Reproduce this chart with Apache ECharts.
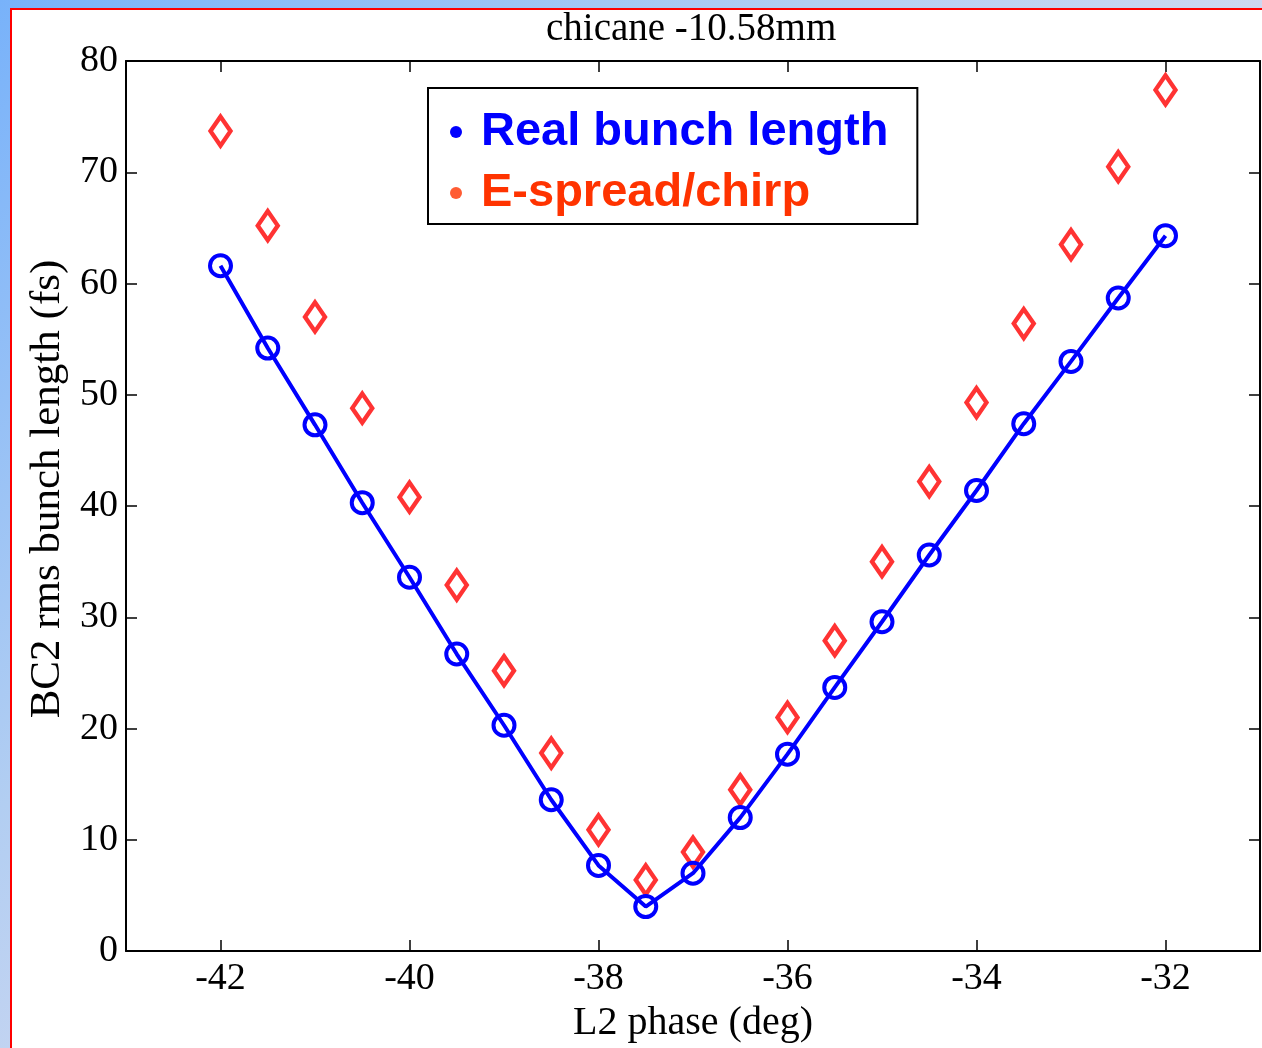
<!DOCTYPE html>
<html>
<head>
<meta charset="utf-8">
<script src="https://cdn.jsdelivr.net/npm/echarts@6/dist/echarts.min.js"></script>
<style>
  html, body { margin: 0; padding: 0; }
  #page {
    position: relative; width: 1262px; height: 1048px; overflow: hidden;
    background: linear-gradient(135deg, #78b2fa 0%, #b2cef2 35%, #dcdcf0 65%, #f6e8f6 100%);
  }
  #sheet {
    position: absolute; left: 10px; top: 8px; right: 0; bottom: 0;
    background: #fff; border-left: 2px solid #ff0000; border-top: 2px solid #ff0000;
  }
  #chart { position: absolute; left: 0; top: 0; width: 1262px; height: 1048px; }
</style>
</head>
<body>
<div id="page">
  <div id="sheet"></div>
  <div id="chart"></div>
</div>
<script>
// L2 phase scan at chicane -10.58mm
const phases = [-42, -41.5, -41, -40.5, -40, -39.5, -39, -38.5, -38, -37.5, -37,
                -36.5, -36, -35.5, -35, -34.5, -34, -33.5, -33, -32.5, -32];
const realBunchLength = [61.6, 54.2, 47.3, 40.3, 33.6, 26.7, 20.3, 13.6, 7.7, 4.0, 7.0,
                         12.0, 17.7, 23.7, 29.6, 35.6, 41.4, 47.4, 53.0, 58.7, 64.3];
const espreadChirp = [73.7, 65.2, 57.0, 48.8, 40.8, 32.9, 25.2, 17.8, 10.9, 6.4, 8.9,
                      14.5, 21.0, 27.9, 35.0, 42.2, 49.3, 56.4, 63.5, 70.5, 77.4];
const xTicks = [-42, -40, -38, -36, -34, -32];
const seriesNames = ['Real bunch length', 'E-spread/chirp'];
const titleText = 'chicane -10.58mm';
const xName = 'L2 phase (deg)';
const yName = 'BC2 rms bunch length (fs)';

const serif = 'Liberation Serif';
const sans = 'Liberation Sans';
const BLUE = '#0000ff';
const RED = '#ff0000';
const ORANGE = '#ff3300';

const pairs = (ys) => phases.map((x, i) => [x, ys[i]]);

const tickCommon = { show: true, inside: true, length: 11, lineStyle: { color: '#000', width: 1.5 } };
const lineCommon = { show: true, onZero: false, lineStyle: { color: '#000', width: 2 } };

const chart = echarts.init(document.getElementById('chart'), null, { renderer: 'canvas' });
chart.setOption({
  animation: false,
  backgroundColor: 'transparent',
  title: {
    text: titleText, left: 541, top: 5,
    textStyle: { fontFamily: serif, fontSize: 39, fontWeight: 'normal', color: '#000' }
  },
  legend: {
    orient: 'vertical', left: 428, top: 88,
    selectedMode: false,
    backgroundColor: '#fff', borderColor: '#000', borderWidth: 2,
    padding: [19, 29, 6, 22],
    itemWidth: 12, itemHeight: 12, itemGap: 11,
    textStyle: { fontFamily: sans, fontSize: 47, fontWeight: 'bold', lineHeight: 50, padding: [0, 0, 0, 14] },
    data: [
      { name: seriesNames[0], icon: 'circle', itemStyle: { color: BLUE, borderWidth: 0 }, textStyle: { color: BLUE } },
      { name: seriesNames[1], icon: 'circle', itemStyle: { color: ORANGE, borderWidth: 0 }, textStyle: { color: ORANGE } }
    ]
  },
  grid: { left: 126, width: 1134, top: 61, height: 897, containLabel: false },
  xAxis: [
    {
      type: 'value', position: 'bottom', min: -43, max: -31,
      name: xName, nameLocation: 'middle', nameGap: 44,
      nameTextStyle: { fontFamily: serif, fontSize: 40, color: '#000' },
      axisLine: lineCommon,
      axisTick: Object.assign({ customValues: xTicks }, tickCommon),
      axisLabel: { customValues: xTicks, margin: 9, fontFamily: serif, fontSize: 38, color: '#000' },
      splitLine: { show: false }
    },
    {
      type: 'value', position: 'top', min: -43, max: -31,
      axisLine: lineCommon,
      axisTick: Object.assign({ customValues: xTicks }, tickCommon),
      axisLabel: { show: false },
      splitLine: { show: false }
    }
  ],
  yAxis: [
    {
      type: 'value', position: 'left', min: 0, max: 80, interval: 10,
      name: yName, nameLocation: 'middle', nameGap: 49,
      nameTextStyle: { fontFamily: serif, fontSize: 43, color: '#000', padding: [0, 0, 0, 34] },
      axisLine: lineCommon,
      axisTick: tickCommon,
      axisLabel: { margin: 8, fontFamily: serif, fontSize: 38, color: '#000' },
      splitLine: { show: false }
    },
    {
      type: 'value', position: 'right', min: 0, max: 80, interval: 10,
      axisLine: lineCommon,
      axisTick: tickCommon,
      axisLabel: { show: false },
      splitLine: { show: false }
    }
  ],
  series: [
    {
      name: seriesNames[0], type: 'line', xAxisIndex: 0, yAxisIndex: 0,
      data: pairs(realBunchLength),
      symbol: 'circle', symbolSize: 21,
      itemStyle: { color: 'rgba(0,0,0,0)', borderColor: BLUE, borderWidth: 4 },
      lineStyle: { color: BLUE, width: 4 },
      z: 3
    },
    {
      name: seriesNames[1], type: 'scatter', xAxisIndex: 0, yAxisIndex: 0,
      data: pairs(espreadChirp),
      symbol: 'diamond', symbolSize: [20, 29],
      itemStyle: { color: 'rgba(0,0,0,0)', borderColor: RED, borderWidth: 4.5 },
      z: 2
    }
  ]
});
</script>
</body>
</html>
